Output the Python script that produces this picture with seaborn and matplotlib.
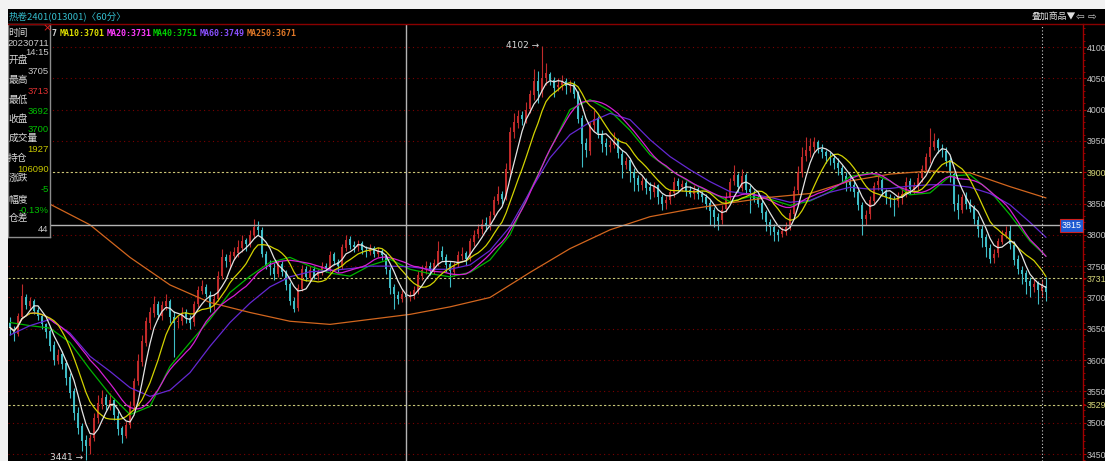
import numpy as np
import pandas as pd
import matplotlib
matplotlib.use("Agg")
import matplotlib.pyplot as plt
from matplotlib.patches import Rectangle
from matplotlib.lines import Line2D
from matplotlib.ticker import MultipleLocator
import seaborn as sns

# ---------------- data ----------------
open_ = [3660, 3650, 3642, 3668, 3700, 3686, 3695, 3680, 3671, 3657,
         3646, 3624, 3598, 3609, 3595, 3573, 3550, 3516, 3494, 3472,
         3462, 3476, 3507, 3530, 3541, 3527, 3537, 3511, 3491, 3479,
         3497, 3527, 3567, 3597, 3628, 3660, 3675, 3689, 3671, 3686,
         3694, 3669, 3661, 3663, 3676, 3667, 3661, 3689, 3711, 3717,
         3704, 3686, 3697, 3734, 3764, 3757, 3767, 3771, 3779, 3791,
         3785, 3799, 3813, 3807, 3769, 3753, 3747, 3737, 3753, 3739,
         3721, 3694, 3683, 3714, 3746, 3731, 3745, 3734, 3741, 3751,
         3745, 3769, 3757, 3751, 3779, 3793, 3783, 3781, 3787, 3775,
         3773, 3779, 3769, 3775, 3767, 3744, 3716, 3704, 3697, 3705,
         3701, 3703, 3711, 3735, 3745, 3751, 3741, 3754, 3775, 3764,
         3753, 3741, 3753, 3767, 3771, 3763, 3789, 3801, 3809, 3819,
         3814, 3831, 3854, 3866, 3857, 3904, 3964, 3979, 3991, 3984,
         4001, 4024, 4046, 4029, 4051, 4057, 4047, 4036, 4039, 4046,
         4037, 4041, 4026, 3986, 3946, 3934, 3976, 3986, 3961, 3946,
         3941, 3943, 3951, 3929, 3911, 3919, 3901, 3891, 3879, 3887,
         3876, 3869, 3879, 3861, 3851, 3856, 3867, 3886, 3877, 3883,
         3871, 3865, 3873, 3866, 3861, 3851, 3839, 3829, 3823, 3841,
         3859, 3886, 3896, 3875, 3895, 3873, 3867, 3859, 3851, 3836,
         3821, 3813, 3804, 3801, 3805, 3813, 3834, 3871, 3899, 3926,
         3934, 3941, 3949, 3937, 3933, 3925, 3923, 3914, 3907, 3894,
         3886, 3879, 3869, 3847, 3826, 3833, 3854, 3879, 3887, 3869,
         3861, 3857, 3854, 3861, 3865, 3886, 3873, 3879, 3891, 3904,
         3924, 3941, 3951, 3937, 3934, 3919, 3897, 3851, 3839, 3861,
         3851, 3843, 3824, 3809, 3796, 3779, 3763, 3771, 3789, 3799,
         3806, 3784, 3761, 3744, 3739, 3726, 3717, 3723, 3711, 3719]

high = [3668, 3655, 3675, 3721, 3705, 3700, 3698, 3684, 3674, 3660,
        3650, 3630, 3618, 3615, 3600, 3580, 3556, 3525, 3500, 3480,
        3482, 3515, 3545, 3552, 3546, 3548, 3540, 3518, 3495, 3502,
        3535, 3572, 3610, 3640, 3668, 3685, 3702, 3694, 3695, 3706,
        3698, 3678, 3670, 3684, 3682, 3672, 3695, 3718, 3728, 3722,
        3710, 3705, 3742, 3778, 3770, 3775, 3780, 3792, 3800, 3795,
        3808, 3825, 3822, 3812, 3775, 3760, 3755, 3758, 3758, 3744,
        3725, 3700, 3722, 3752, 3750, 3750, 3750, 3746, 3756, 3755,
        3775, 3772, 3762, 3786, 3800, 3798, 3790, 3792, 3790, 3782,
        3785, 3782, 3780, 3778, 3770, 3748, 3722, 3710, 3712, 3713,
        3710, 3718, 3742, 3752, 3758, 3756, 3762, 3790, 3782, 3770,
        3758, 3756, 3775, 3780, 3775, 3795, 3808, 3818, 3826, 3828,
        3838, 3862, 3878, 3870, 3915, 3972, 3995, 4000, 3998, 4012,
        4032, 4065, 4062, 4102, 4075, 4060, 4052, 4050, 4056, 4050,
        4048, 4045, 4030, 3992, 3955, 3980, 4000, 3990, 3968, 3955,
        3952, 3965, 3955, 3935, 3925, 3922, 3906, 3895, 3892, 3890,
        3885, 3884, 3882, 3866, 3862, 3874, 3892, 3890, 3888, 3886,
        3878, 3880, 3876, 3870, 3866, 3856, 3845, 3835, 3848, 3868,
        3890, 3912, 3898, 3905, 3898, 3880, 3872, 3866, 3856, 3840,
        3826, 3818, 3810, 3812, 3820, 3842, 3878, 3910, 3940, 3956,
        3955, 3957, 3952, 3945, 3936, 3932, 3928, 3922, 3912, 3900,
        3895, 3888, 3872, 3852, 3840, 3862, 3885, 3895, 3890, 3874,
        3866, 3862, 3868, 3875, 3892, 3890, 3885, 3898, 3912, 3930,
        3970, 3962, 3955, 3945, 3940, 3925, 3900, 3865, 3866, 3868,
        3858, 3848, 3830, 3815, 3802, 3786, 3778, 3795, 3808, 3814,
        3815, 3790, 3768, 3750, 3744, 3732, 3730, 3726, 3730, 3732]

low = [3640, 3630, 3638, 3665, 3682, 3680, 3674, 3664, 3650, 3636,
       3615, 3592, 3594, 3585, 3560, 3540, 3505, 3482, 3455, 3441,
       3450, 3470, 3500, 3522, 3520, 3520, 3505, 3480, 3468, 3475,
       3492, 3520, 3560, 3590, 3622, 3650, 3668, 3665, 3664, 3680,
       3660, 3605, 3652, 3656, 3660, 3650, 3655, 3684, 3705, 3700,
       3676, 3680, 3694, 3730, 3748, 3745, 3760, 3765, 3772, 3775,
       3780, 3795, 3800, 3765, 3745, 3736, 3728, 3732, 3735, 3712,
       3688, 3676, 3678, 3710, 3726, 3725, 3730, 3728, 3736, 3740,
       3740, 3752, 3740, 3745, 3775, 3778, 3772, 3775, 3770, 3764,
       3768, 3765, 3765, 3760, 3738, 3705, 3682, 3690, 3692, 3692,
       3695, 3698, 3706, 3728, 3738, 3736, 3738, 3750, 3760, 3740,
       3716, 3735, 3748, 3760, 3752, 3758, 3782, 3795, 3802, 3806,
       3808, 3826, 3850, 3850, 3855, 3895, 3955, 3970, 3975, 3978,
       3995, 4015, 4010, 4020, 4040, 4040, 4020, 4030, 4032, 4025,
       4028, 4018, 3978, 3908, 3925, 3928, 3965, 3955, 3932, 3928,
       3932, 3938, 3922, 3890, 3905, 3885, 3870, 3870, 3872, 3866,
       3858, 3860, 3850, 3840, 3842, 3850, 3860, 3870, 3870, 3862,
       3860, 3858, 3858, 3852, 3842, 3815, 3812, 3808, 3818, 3836,
       3855, 3880, 3868, 3870, 3865, 3835, 3852, 3845, 3826, 3806,
       3800, 3790, 3790, 3796, 3800, 3808, 3830, 3865, 3892, 3918,
       3925, 3932, 3930, 3922, 3915, 3912, 3905, 3895, 3885, 3870,
       3870, 3860, 3840, 3800, 3815, 3826, 3850, 3872, 3862, 3850,
       3845, 3830, 3845, 3850, 3860, 3866, 3866, 3872, 3885, 3900,
       3915, 3935, 3930, 3925, 3910, 3885, 3838, 3826, 3835, 3842,
       3836, 3818, 3796, 3780, 3765, 3755, 3755, 3764, 3785, 3795,
       3778, 3752, 3738, 3722, 3705, 3700, 3708, 3690, 3700, 3695]

close = [3652, 3641, 3670, 3702, 3688, 3694, 3679, 3670, 3658, 3645,
         3622, 3600, 3608, 3594, 3572, 3548, 3515, 3492, 3470, 3462,
         3475, 3508, 3532, 3540, 3528, 3536, 3512, 3490, 3480, 3496,
         3528, 3566, 3598, 3630, 3662, 3676, 3690, 3672, 3688, 3695,
         3668, 3660, 3662, 3675, 3668, 3660, 3690, 3712, 3718, 3705,
         3685, 3698, 3735, 3765, 3758, 3768, 3772, 3780, 3790, 3786,
         3800, 3812, 3808, 3770, 3752, 3748, 3738, 3752, 3740, 3720,
         3695, 3682, 3715, 3745, 3732, 3744, 3735, 3740, 3750, 3746,
         3768, 3758, 3750, 3780, 3792, 3784, 3780, 3786, 3776, 3772,
         3778, 3770, 3774, 3768, 3745, 3715, 3705, 3698, 3706, 3700,
         3702, 3712, 3736, 3744, 3750, 3742, 3755, 3774, 3765, 3752,
         3742, 3752, 3768, 3770, 3762, 3790, 3800, 3810, 3818, 3815,
         3830, 3855, 3865, 3858, 3905, 3965, 3980, 3990, 3985, 4000,
         4025, 4045, 4030, 4050, 4058, 4048, 4035, 4040, 4045, 4038,
         4040, 4025, 3985, 3945, 3935, 3975, 3985, 3962, 3945, 3940,
         3944, 3950, 3930, 3912, 3918, 3902, 3890, 3880, 3886, 3875,
         3870, 3878, 3860, 3850, 3855, 3868, 3885, 3878, 3882, 3870,
         3866, 3872, 3865, 3860, 3850, 3838, 3828, 3822, 3840, 3860,
         3885, 3895, 3876, 3894, 3872, 3868, 3858, 3850, 3835, 3820,
         3812, 3805, 3800, 3806, 3812, 3835, 3870, 3900, 3925, 3935,
         3942, 3948, 3938, 3932, 3926, 3922, 3915, 3906, 3895, 3885,
         3880, 3868, 3848, 3825, 3832, 3855, 3878, 3886, 3870, 3860,
         3858, 3855, 3860, 3866, 3885, 3874, 3878, 3890, 3905, 3925,
         3940, 3950, 3938, 3935, 3918, 3898, 3850, 3840, 3860, 3850,
         3842, 3825, 3810, 3795, 3780, 3762, 3770, 3790, 3800, 3805,
         3785, 3760, 3745, 3738, 3725, 3718, 3722, 3712, 3720, 3708]

# long moving averages (they need history before the window)
ma_mid_idx = list(range(0, 256, 5)) + [259]
ma40 = [3660, 3655, 3651, 3628, 3585, 3545, 3513, 3526, 3590, 3628,
        3665, 3708, 3734, 3756, 3764, 3750, 3739, 3734, 3751, 3761,
        3745, 3738, 3733, 3740, 3760, 3800, 3870, 3936, 4000, 4016,
        3998, 3967, 3928, 3904, 3884, 3868, 3853, 3861, 3857, 3847,
        3854, 3869, 3893, 3899, 3886, 3864, 3867, 3894, 3896, 3870,
        3832, 3790, 3766]
ma60 = [3640, 3655, 3665, 3643, 3606, 3582, 3556, 3542, 3552, 3580,
        3622, 3660, 3691, 3717, 3733, 3741, 3743, 3746, 3750, 3750,
        3749, 3745, 3745, 3752, 3775, 3813, 3869, 3923, 3960, 3980,
        3994, 3984, 3952, 3925, 3904, 3885, 3869, 3865, 3860, 3852,
        3855, 3868, 3876, 3873, 3874, 3878, 3880, 3880, 3876, 3866,
        3848, 3820, 3796]
ma_long_idx = list(range(0, 251, 10)) + [259]
ma250 = [3875, 3849, 3816, 3764, 3720, 3692, 3676, 3662, 3657, 3665,
         3673, 3685, 3700, 3740, 3778, 3808, 3829, 3841, 3851, 3860,
         3866, 3886, 3897, 3902, 3899, 3877, 3859]

price_ticks = [3450, 3500, 3550, 3600, 3650, 3700, 3750, 3800,
               3850, 3900, 3950, 4000, 4050, 4100]
mark_lines = [3900, 3731, 3529]
cross_idx = 99
cross_price = 3815
last_marker_idx = 258
peak_label = (133, 4102)
trough_label = (19, 3441)

title_text = "热卷2401(013001)〈60分〉"
legend_items = [("7", "#d0d0d0"), ("MA10:3701", "#dede00"), ("MA20:3731", "#ff3cff"),
                ("MA40:3751", "#00d000"), ("MA60:3749", "#8a50ff"), ("MA250:3671", "#e07828")]
info_labels = ["时间", "开盘", "最高", "最低", "收盘", "成交量", "持仓", "涨跌", "幅度", "仓差"]
info_values = ["20230711\n14:15", "3705", "3713", "3692", "3700", "1927", "106090", "-5", "-0.13%", "44"]
info_colors = ["#c8c8c8", "#c8c8c8", "#e03030", "#00c000", "#00c000", "#c8c800",
               "#c8c800", "#00c000", "#00c000", "#c8c8c8"]

assert len(open_) == len(high) == len(low) == len(close) == 260
assert len(ma40) == len(ma60) == len(ma_mid_idx)
assert len(ma250) == len(ma_long_idx)

# ---------------- style ----------------
sns.set_theme(style="dark")
plt.rcParams["font.family"] = ["Noto Sans CJK SC", "DejaVu Sans"]
plt.rcParams["axes.facecolor"] = "black"
plt.rcParams["figure.facecolor"] = "black"
NUMFONT = ["Liberation Sans", "DejaVu Sans"]

W, H = 1105, 461
def fx(px):
    return px / W
def fy(py):
    return 1 - py / H

fig = plt.figure(figsize=(W / 100, H / 100), dpi=100)
fig.patch.set_facecolor("black")

ax = fig.add_axes([fx(8), 0, (1083 - 8) / W, (461 - 24) / H])
ax.set_facecolor("black")
scale = 407 / 650.0
ax.set_xlim(-0.5, -0.5 + 1075 / 4.0)
ax.set_ylim(3450 - 7 / scale, 4100 + 23 / scale)

n = len(close)
idx = np.arange(n)
o = np.array(open_, float); c = np.array(close, float)
h = np.array(high, float); l = np.array(low, float)
UP, DOWN = "#c02a2a", "#3ebcc6"
cols = [UP if ci >= oi else DOWN for oi, ci in zip(o, c)]

# grid
for p in price_ticks:
    ax.axhline(p, color="#7a0000", lw=0.8, ls=(0, (1, 3)), zorder=1)
for p in mark_lines:
    ax.axhline(p, color="#c8c878", lw=0.8, ls=(0, (2, 2)), zorder=1)

# candles
ax.vlines(idx, l, h, colors=cols, lw=0.8, zorder=2)
bottoms = np.minimum(o, c)
heights = np.maximum(np.abs(c - o), 1.2)
ax.bar(idx, heights, bottom=bottoms, width=0.6, color=cols, linewidth=0, zorder=2)

# moving averages
s = pd.Series(c)
ma_df = pd.DataFrame({"i": idx,
                      "ma5": s.rolling(5, min_periods=1).mean(),
                      "ma10": s.rolling(10, min_periods=1).mean(),
                      "ma20": s.rolling(20, min_periods=1).mean()})
for col, color in [("ma20", "#d41ed4"), ("ma10", "#d2d200"), ("ma5", "#e4e4e4")]:
    sns.lineplot(data=ma_df, x="i", y=col, ax=ax, color=color, lw=0.9,
                 estimator=None, legend=False, zorder=4)
mid = pd.DataFrame({"i": ma_mid_idx, "ma40": ma40, "ma60": ma60})
sns.lineplot(data=mid, x="i", y="ma40", ax=ax, color="#00b400", lw=0.9,
             estimator=None, legend=False, zorder=3)
sns.lineplot(data=mid, x="i", y="ma60", ax=ax, color="#6428d2", lw=0.9,
             estimator=None, legend=False, zorder=3)
lng = pd.DataFrame({"i": ma_long_idx, "ma250": ma250})
sns.lineplot(data=lng, x="i", y="ma250", ax=ax, color="#d2661e", lw=0.9,
             estimator=None, legend=False, zorder=3)

# crosshair and markers
ax.axvline(cross_idx, color="#b4b4b4", lw=1.0, zorder=5)
ax.axhline(cross_price, color="#b4b4b4", lw=1.0, zorder=5)
ax.axvline(last_marker_idx, color="#d0d0d0", lw=0.8, ls=(0, (1, 2)), zorder=5)

ax.text(0.9985, cross_price, str(cross_price), transform=ax.get_yaxis_transform(),
        ha="right", va="center", color="white", fontsize=6.4,
        family=NUMFONT, zorder=7,
        bbox=dict(facecolor="#1e5ad2", edgecolor="#d02020", lw=0.8, pad=1.2))

ax.text(peak_label[0] - 0.8, peak_label[1], f"{peak_label[1]} →", ha="right", va="center",
        color="#d8d8d8", fontsize=6.5, family=["DejaVu Sans"], zorder=6)
ax.text(trough_label[0] - 0.6, trough_label[1], f"{trough_label[1]} →", ha="right", va="baseline",
        color="#d8d8d8", fontsize=6.5, family=["DejaVu Sans"], zorder=6)

# axis styling
ax.set_xticks([])
ax.set_xlabel(""); ax.set_ylabel("")
ax.yaxis.tick_right()
tick_vals = price_ticks + [3731, 3529]
ax.set_yticks(tick_vals)
ax.set_yticklabels([str(v) for v in tick_vals])
ax.yaxis.set_minor_locator(MultipleLocator(10))
ax.tick_params(axis="y", which="major", length=2.0, width=0.8, color="#b00000",
               labelcolor="#c4c4c4", labelsize=6.3, pad=0.5)
ax.tick_params(axis="y", which="minor", length=1.3, width=0.6, color="#b00000")
for lab, v in zip(ax.get_yticklabels(), tick_vals):
    lab.set_family(NUMFONT)
    if v in mark_lines:
        lab.set_color("#d8d87a")
for name, sp in ax.spines.items():
    sp.set_visible(name == "right")
ax.spines["right"].set_color("#a00000")
ax.spines["right"].set_linewidth(1.0)
ax.grid(False)

# info panel
pax = fig.add_axes([fx(8), fy(237), 42 / W, (237 - 24) / H], zorder=5)
pax.set_facecolor("black")
pax.set_xticks([]); pax.set_yticks([])
for sp in pax.spines.values():
    sp.set_color("#8c8c8c"); sp.set_linewidth(1.0)

label_y = [33, 60, 80, 100, 119, 138, 158, 178, 200, 218]
value_y = [43, 72, 91, 111, 130, 150, 170, 190, 210, 229]
for lab, ly in zip(info_labels, label_y):
    fig.text(fx(8.2), fy(ly), lab, color="#d8d8d8", fontsize=7.0, va="center",
             ha="left", zorder=10)
for val, vy, vc in zip(info_values, value_y, info_colors):
    parts = val.split("\n")
    for k, part in enumerate(parts):
        fig.text(fx(48.8), fy(vy + 9.5 * k), part, color=vc, fontsize=6.8, va="center",
                 ha="right", family=NUMFONT, zorder=10)
fig.text(fx(47), fy(28), "×", color="#e02020", fontsize=8, va="center", ha="center",
         family=["DejaVu Sans"], zorder=10)

# title bar and MA legend
fig.text(fx(8.5), fy(16.5), title_text, color="#34bccc", fontsize=6.8, va="center",
         ha="left", zorder=10)
fig.text(fx(1032), fy(16.5), "叠加商品▼", color="#e0e0e0", fontsize=6.4, va="center",
         ha="left", zorder=10)
fig.text(fx(1076), fy(16.5), "⇦ ⇨", color="#c8c8c8", fontsize=7.5, va="center",
         ha="left", family=["DejaVu Sans"], zorder=10)
lx = [52, 60, 107, 153, 200, 247]
for (txt, col), x0 in zip(legend_items, lx):
    fig.text(fx(x0), fy(33), txt, color=col, fontsize=6.0, va="center", ha="left",
             family=["DejaVu Sans Mono"], fontweight="bold", zorder=10)

fig.add_artist(Line2D([fx(8), 1.0], [fy(24.5), fy(24.5)], color="#8a0000", lw=1.0, zorder=8))
fig.add_artist(Rectangle((0, fy(9)), 1, 9 / H, transform=fig.transFigure,
                         facecolor="#f2f2f2", edgecolor="none", zorder=20))
fig.add_artist(Rectangle((0, 0), 8 / W, 1, transform=fig.transFigure,
                         facecolor="#f2f2f2", edgecolor="none", zorder=20))

fig.savefig("out.png", dpi=100, facecolor="black")
